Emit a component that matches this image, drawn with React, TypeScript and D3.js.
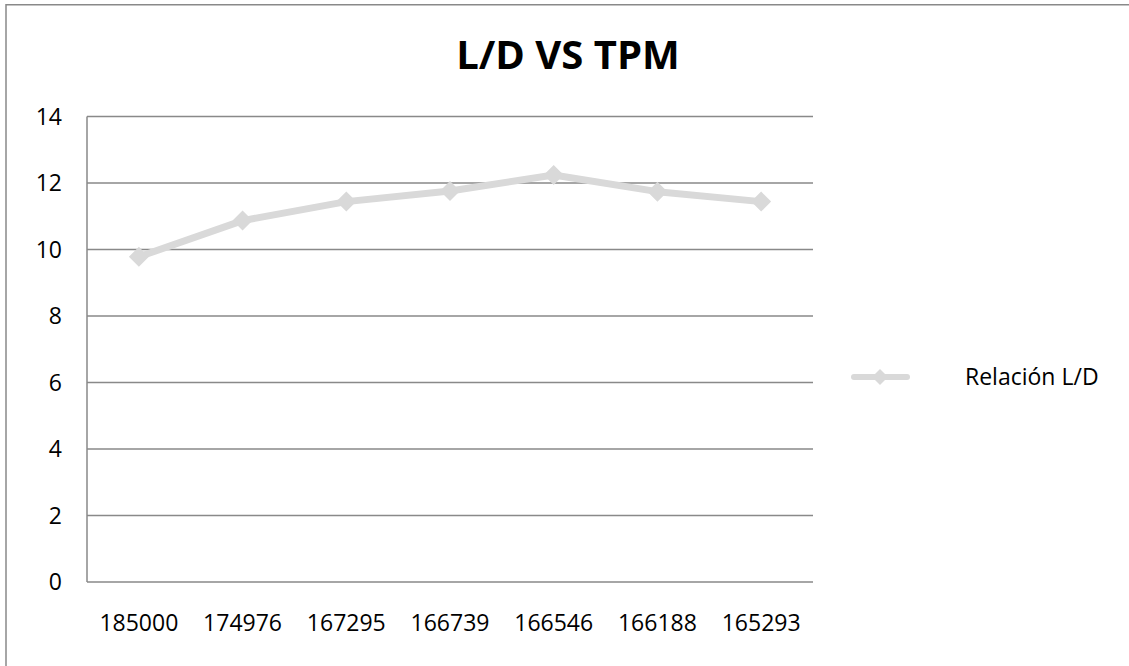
import React from "react";
import * as d3 from "d3";

const categories = ["185000", "174976", "167295", "166739", "166546", "166188", "165293"];
const ratioValues = [9.78, 10.87, 11.44, 11.76, 12.24, 11.74, 11.44];
const yTicks = [0, 2, 4, 6, 8, 10, 12, 14];
const seriesName = "Relación L/D";
const chartTitle = "L/D VS TPM";

const W = 1129;
const H = 666;
const plot = { left: 87, right: 813, top: 116.5, bottom: 582 };
const FONT = "'Open Sans', 'Liberation Sans', sans-serif";
const LINE_COLOR = "#d9d9d9";
const GRID_COLOR = "#898989";

function diamond(cx: number, cy: number, r: number) {
  return `M${cx},${cy - r}L${cx + r},${cy}L${cx},${cy + r}L${cx - r},${cy}Z`;
}

export default function App() {
  const x = d3
    .scaleBand<string>()
    .domain(categories)
    .range([plot.left, plot.right])
    .padding(0);
  const y = d3.scaleLinear().domain([0, 14]).range([plot.bottom, plot.top]);

  const pts = categories.map((c, i) => ({
    x: (x(c) as number) + x.bandwidth() / 2,
    y: y(ratioValues[i]),
  }));
  const linePath = d3
    .line<{ x: number; y: number }>()
    .x((d) => d.x)
    .y((d) => d.y)(pts) as string;

  const legendY = 377;

  return (
    <div style={{ position: "absolute", left: 0, top: 0 }}>
      <svg width={W} height={H} style={{ display: "block", background: "#fff" }}>
        {/* chart frame */}
        <rect x={6} y={4.75} width={W + 20} height={H + 20} fill="#fff" stroke={GRID_COLOR} strokeWidth={1.5} />

        <text
          x={568}
          y={69}
          textAnchor="middle"
          fontFamily={FONT}
          fontWeight={700}
          fontSize={40}
          fill="#000"
        >
          {chartTitle}
        </text>

        {/* horizontal gridlines */}
        {yTicks.map((t) => (
          <line
            key={t}
            x1={plot.left}
            x2={plot.right}
            y1={y(t)}
            y2={y(t)}
            stroke={GRID_COLOR}
            strokeWidth={1.5}
          />
        ))}
        {/* vertical axis */}
        <line x1={plot.left} x2={plot.left} y1={plot.top} y2={plot.bottom} stroke={GRID_COLOR} strokeWidth={1.5} />

        {/* y tick labels */}
        {yTicks.map((t) => (
          <text
            key={t}
            x={62}
            y={y(t)}
            dy="0.35em"
            textAnchor="end"
            fontFamily={FONT}
            fontSize={23}
            fill="#000"
          >
            {t}
          </text>
        ))}

        {/* x tick labels */}
        {categories.map((c) => (
          <text
            key={c}
            x={(x(c) as number) + x.bandwidth() / 2}
            y={623}
            dy="0.35em"
            textAnchor="middle"
            fontFamily={FONT}
            fontSize={23}
            fill="#000"
          >
            {c}
          </text>
        ))}

        {/* series */}
        <path d={linePath} fill="none" stroke={LINE_COLOR} strokeWidth={7} strokeLinejoin="round" />
        {pts.map((p, i) => (
          <path key={i} d={diamond(p.x, p.y, 10)} fill={LINE_COLOR} />
        ))}

        {/* legend */}
        <line x1={854} x2={907} y1={legendY} y2={legendY} stroke={LINE_COLOR} strokeWidth={6} strokeLinecap="round" />
        <path d={diamond(880, legendY, 8)} fill={LINE_COLOR} />
        <text x={965} y={legendY} dy="0.35em" fontFamily={FONT} fontSize={23} fill="#000">
          {seriesName}
        </text>
      </svg>
    </div>
  );
}
